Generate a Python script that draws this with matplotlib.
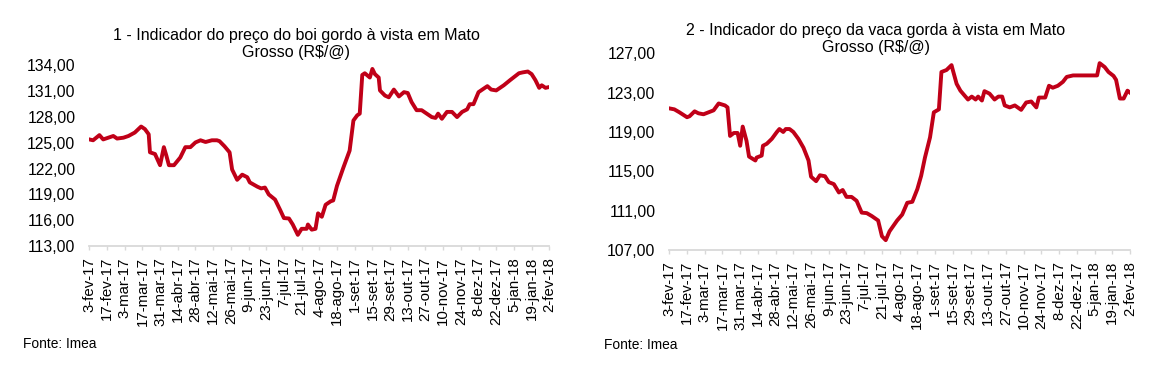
import pandas as pd
import matplotlib.pyplot as plt

plt.rcParams['font.family'] = ['Liberation Sans', 'DejaVu Sans']

# dados (dias desde 3-fev-17, R$/@)
inicio = pd.Timestamp('2017-02-03')

boi_dias = [0, 3, 8, 11, 19, 22, 27, 31, 36, 41, 44, 47, 48, 52, 56, 59, 61, 63, 67, 72,
            76, 80, 84, 88, 92, 97, 101, 103, 107, 111, 113, 117, 121, 125, 127, 133, 136,
            139, 142, 147, 151, 154, 158, 161, 165, 168, 172, 173, 176, 179, 181, 184, 187,
            191, 193, 196, 201, 206, 209, 212, 214, 216, 218, 222, 224, 226, 229, 230, 234,
            237, 241, 245, 249, 252, 255, 259, 263, 267, 271, 274, 276, 279, 283, 287, 291,
            295, 299, 301, 304, 308, 311, 315, 318, 322, 328, 333, 340, 343, 347, 350, 353,
            356, 358, 361, 364]
boi_preco = [125.4, 125.3, 125.9, 125.4, 125.8, 125.5, 125.6, 125.8, 126.2, 126.9, 126.6,
             126.0, 123.9, 123.7, 122.4, 124.5, 123.5, 122.4, 122.4, 123.3, 124.5, 124.5,
             125.05, 125.3, 125.1, 125.3, 125.3, 125.2, 124.6, 123.9, 121.9, 120.7, 121.3,
             121.0, 120.4, 119.9, 119.7, 119.8, 119.0, 118.4, 117.2, 116.25, 116.2, 115.5,
             114.3, 115.0, 115.0, 115.5, 114.9, 115.0, 116.8, 116.4, 117.8, 118.2, 118.3,
             120.0, 122.1, 124.1, 127.6, 128.2, 128.4, 132.9, 133.1, 132.6, 133.6, 133.0,
             132.6, 131.1, 130.5, 130.3, 131.2, 130.4, 130.9, 130.8, 129.75, 128.8, 128.8,
             128.4, 128.0, 127.9, 128.4, 127.8, 128.6, 128.6, 128.0, 128.6, 128.9, 129.5,
             129.5, 130.9, 131.2, 131.6, 131.2, 131.1, 131.7, 132.3, 133.1, 133.2, 133.3,
             133.0, 132.3, 131.4, 131.7, 131.4, 131.5]

vaca_dias = [0, 4, 8, 14, 16, 20, 23, 27, 31, 35, 39, 44, 46, 48, 51, 54, 56, 58, 61, 63,
             68, 69, 73, 74, 77, 81, 85, 87, 90, 92, 95, 98, 102, 106, 110, 112, 116, 119,
             123, 126, 130, 134, 137, 140, 144, 148, 152, 156, 160, 165, 168, 171, 174, 180,
             184, 188, 192, 196, 199, 202, 206, 209, 213, 215, 219, 223, 224, 227, 230, 232,
             236, 239, 242, 244, 247, 249, 253, 257, 260, 263, 265, 269, 273, 278, 282, 286,
             290, 292, 297, 300, 303, 307, 311, 314, 319, 338, 340, 344, 347, 351, 353, 356,
             359, 362, 364]
vaca_preco = [121.4, 121.3, 121.0, 120.5, 120.6, 121.1, 120.9, 120.8, 121.0, 121.2, 121.9,
              121.7, 121.5, 118.6, 118.9, 118.9, 117.6, 119.55, 118.1, 116.5, 116.1, 116.4,
              116.6, 117.6, 117.8, 118.3, 119.0, 119.3, 119.0, 119.3, 119.3, 119.0, 118.3,
              117.4, 116.1, 114.45, 114.0, 114.6, 114.5, 113.9, 113.7, 112.85, 113.1, 112.4,
              112.4, 112.0, 110.8, 110.75, 110.45, 110.0, 108.4, 108.0, 108.9, 110.0, 110.6,
              111.8, 111.9, 113.2, 114.55, 116.4, 118.45, 121.0, 121.3, 125.1, 125.3, 125.8,
              125.3, 123.9, 123.2, 122.9, 122.3, 122.6, 122.3, 122.6, 122.2, 123.15, 122.9,
              122.3, 122.6, 122.6, 121.7, 121.5, 121.7, 121.25, 122.0, 122.1, 121.5, 122.5,
              122.5, 123.7, 123.5, 123.7, 124.1, 124.6, 124.75, 124.75, 126.0, 125.6, 125.1,
              124.7, 124.3, 122.4, 122.4, 123.2, 123.0]

meses = ['jan', 'fev', 'mar', 'abr', 'mai', 'jun', 'jul', 'ago', 'set', 'out', 'nov', 'dez']
datas_ticks = pd.date_range('2017-02-03', '2018-02-02', freq='14D')
rotulos = [f"{d.day}-{meses[d.month - 1]}-{d.strftime('%y')}" for d in datas_ticks]

titulos = ['1 - Indicador do preço do boi gordo à vista em Mato\nGrosso (R$/@)',
           '2 - Indicador do preço da vaca gorda à vista em Mato\nGrosso (R$/@)']

COR = '#C00018'
CINZA = '#D9D9D9'


def desenha(ax, dias, precos, ylim, passo):
    datas = inicio + pd.to_timedelta(dias, unit='D')
    ax.plot(datas, precos, color=COR, lw=2.8, solid_joinstyle='round')
    ax.set_xlim(datas_ticks[0], datas_ticks[-1])
    ax.set_ylim(*ylim)
    ax.set_yticks(range(ylim[0], ylim[1] + 1, passo))
    ax.set_yticklabels([f'{v},00' for v in range(ylim[0], ylim[1] + 1, passo)], fontsize=11.3)
    ax.set_xticks(datas_ticks)
    ax.set_xticklabels(rotulos, rotation=90, fontsize=10.8)
    for s in ['left', 'top', 'right']:
        ax.spines[s].set_visible(False)
    ax.spines['bottom'].set_color(CINZA)
    ax.spines['bottom'].set_linewidth(1.3)
    ax.tick_params(axis='y', length=0, pad=10)
    ax.tick_params(axis='x', direction='out', length=3, width=1, color=CINZA, pad=5)
    ax.patch.set_visible(False)


fig = plt.figure(figsize=(11.59, 3.78), dpi=100)
ax1 = fig.add_axes([89.3 / 1159, 1 - 246 / 378, 460 / 1159, (246 - 65.5) / 378])
ax2 = fig.add_axes([669.3 / 1159, 1 - 250 / 378, 460.7 / 1159, (250 - 53.3) / 378])

desenha(ax1, boi_dias, boi_preco, (113, 134), 3)
desenha(ax2, vaca_dias, vaca_preco, (107, 127), 4)

fig.text(296 / 1159, 1 - 44 / 378, titulos[0], ha='center', va='center', fontsize=11.5, linespacing=1.1)
fig.text(876 / 1159, 1 - 39 / 378, titulos[1], ha='center', va='center', fontsize=11.5, linespacing=1.1)

fig.text(23 / 1159, 1 - 344 / 378, 'Fonte: Imea', ha='left', va='center', fontsize=9.9)
fig.text(604 / 1159, 1 - 345 / 378, 'Fonte: Imea', ha='left', va='center', fontsize=9.9)

fig.savefig('out.png', dpi=100, facecolor='white')
